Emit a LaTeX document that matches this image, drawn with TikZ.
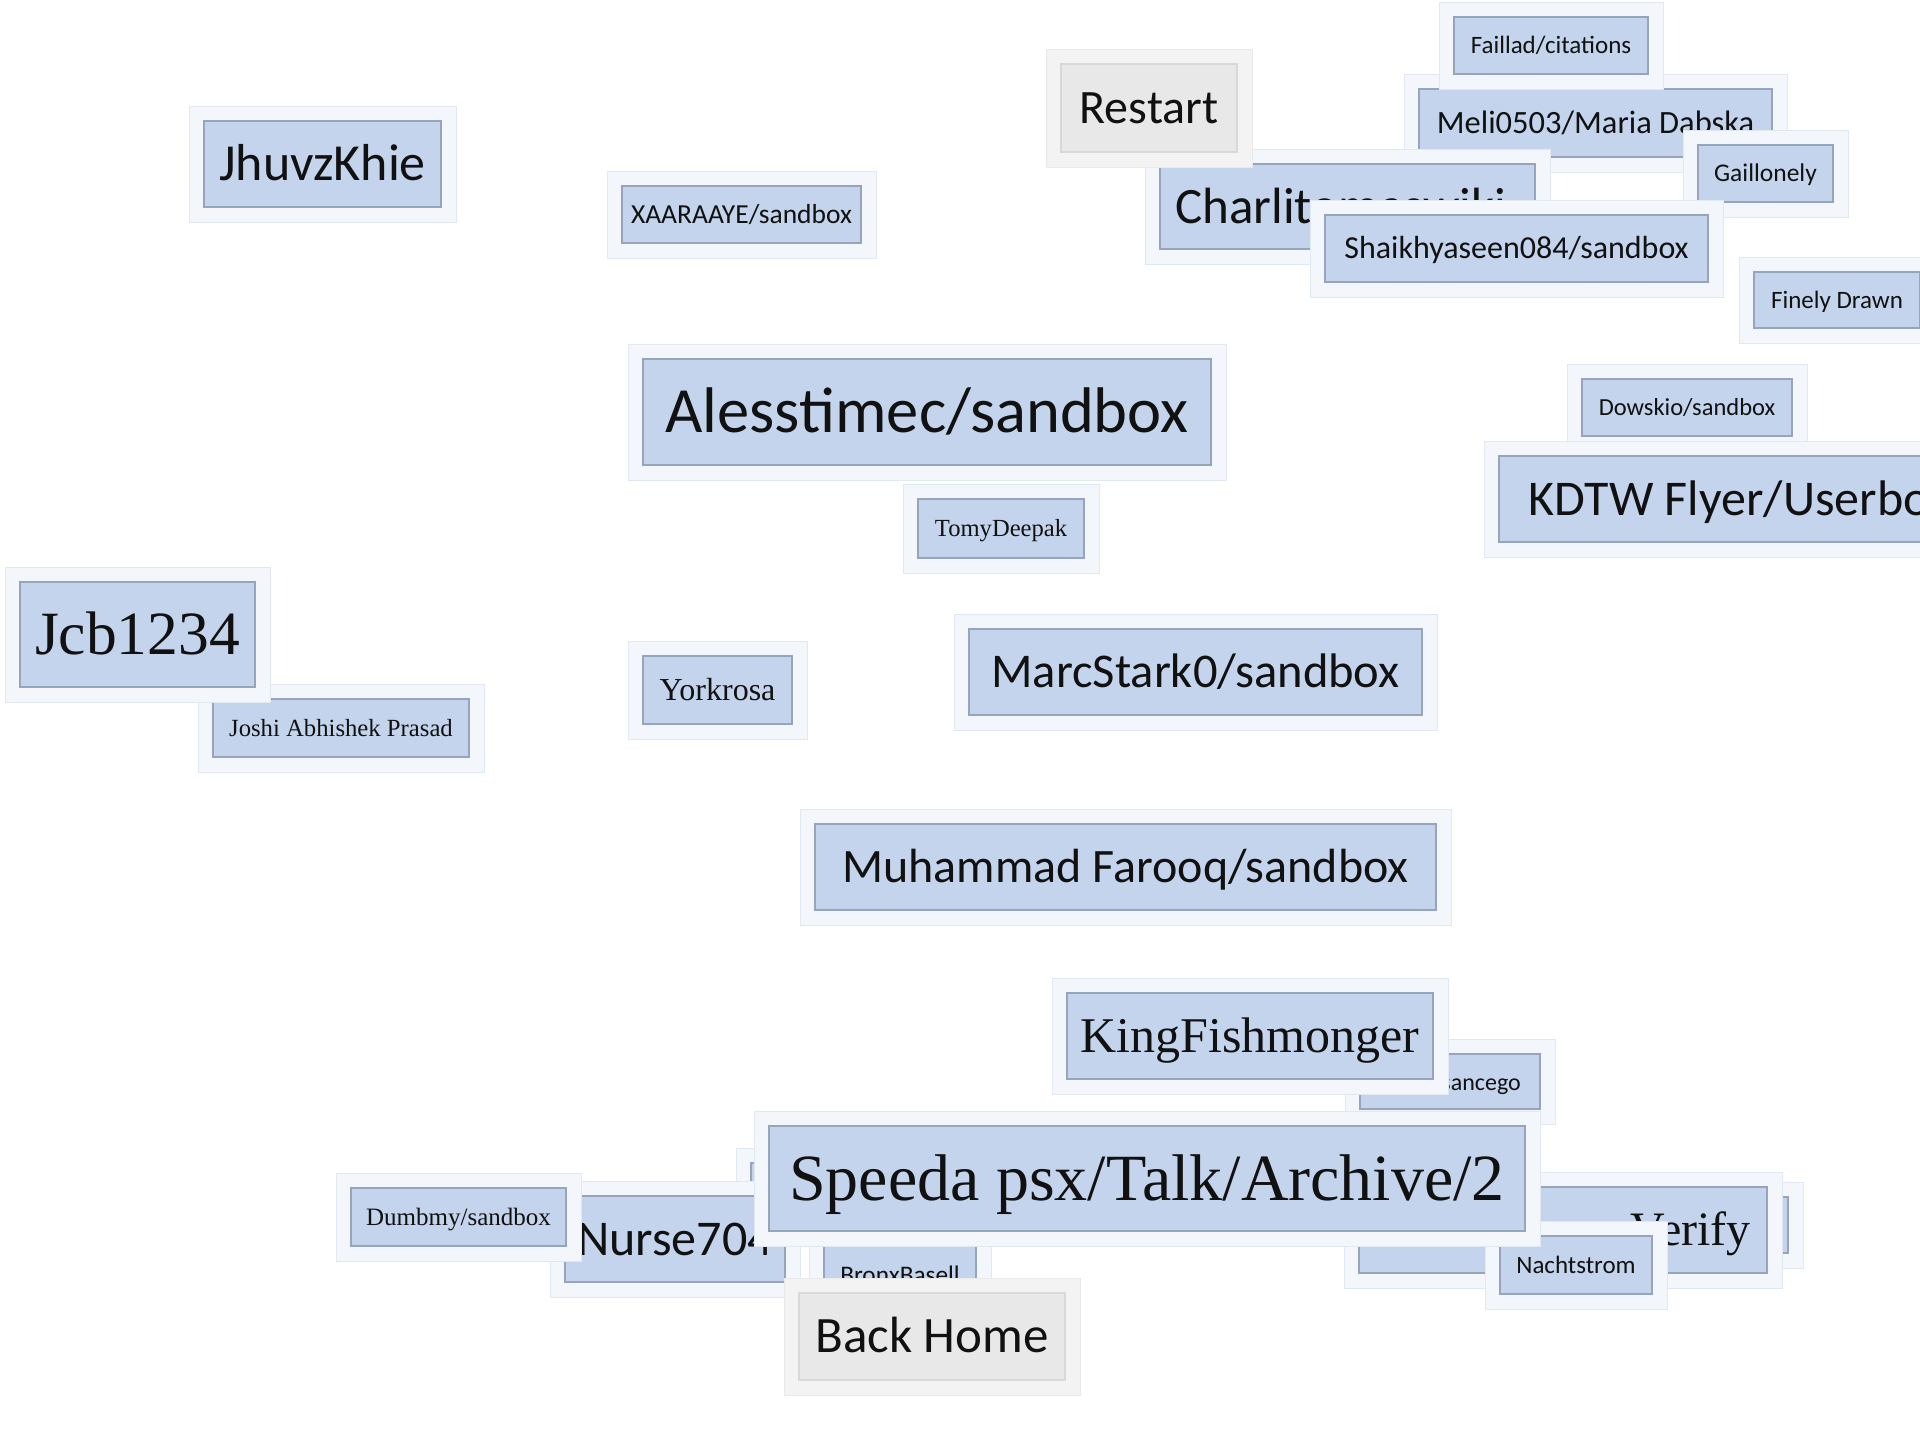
\documentclass[tikz,border=0pt]{standalone}
\usepackage{fontspec}
\newfontfamily\sansface{Carlito}
\newfontfamily\serifface{Liberation Serif}

% keep every label's vertical centre on its capital height
\newcommand\capbox[1]{\smash{#1}\vphantom{X}}

% \card{style}{name}{x1}{y1}{x2}{y2}{text}: a box whose inner rectangle spans the two corners
\newcommand\card[7]{%
  \pgfmathsetmacro\cardcx{(#3+#5)/2}%
  \pgfmathsetmacro\cardcy{(#4+#6)/2}%
  \pgfmathsetmacro\cardw{#5-#3}%
  \pgfmathsetmacro\cardh{#6-#4}%
  \node[#1, minimum width=\cardw pt, minimum height=\cardh pt] (#2) at (\cardcx,\cardcy) {#7};}

\definecolor{boxfill}{RGB}{195,212,236}
\definecolor{boxedge}{RGB}{150,165,188}
\definecolor{halofill}{RGB}{243,247,252}
\definecolor{haloedge}{RGB}{224,232,242}
\definecolor{btnfill}{RGB}{232,232,232}
\definecolor{btnedge}{RGB}{216,216,216}
\definecolor{btnhalo}{RGB}{243,243,243}
\definecolor{btnhaloedge}{RGB}{233,233,233}
\definecolor{ink}{RGB}{17,17,17}

\tikzset{
  halo/.style 2 args={
    preaction={draw=#2, line width=31pt, fill=none},
    preaction={draw=#1, line width=29pt, fill=none}},
  pagebox/.style={draw=boxedge, fill=boxfill, line width=1.5pt, inner sep=0pt,
    text=ink, halo={halofill}{haloedge}},
  button/.style={draw=btnedge, fill=btnfill, line width=1.5pt, inner sep=0pt,
    text=ink, halo={btnhalo}{btnhaloedge}},
  sans/.style={font=\sansface\fontsize{#1}{#1}\selectfont},
  serif/.style={font=\serifface\fontsize{#1}{#1}\selectfont},
  loose/.style={text=ink, inner sep=0pt},
}

\begin{document}
\begin{tikzpicture}[x=1pt,y=-1pt]
  \useasboundingbox (0,0) rectangle (1920,1440);
  \clip (0,0) rectangle (1920,1440);
  \fill[white] (0,0) rectangle (1920,1440);

  % upper left and centre
  \card{pagebox, sans=52}{jhuvz}{204}{121}{441}{207}{\capbox{JhuvzKhie}}
  \card{pagebox, sans=27.5}{xaara}{622}{186}{861}{243}{\capbox{XAARAAYE/sandbox}}
  \card{pagebox, sans=64.5}{alesst}{643}{359}{1211}{465}{\capbox{Alesstimec/sandbox}}
  \card{pagebox, serif=24.6}{tomy}{918}{499}{1084}{558}{\capbox{TomyDeepak}}
  \card{pagebox, serif=24.7}{joshi}{213}{699}{469}{757}{\capbox{Joshi Abhishek Prasad}}
  \card{pagebox, serif=61.5}{jcb}{20}{582}{255}{687}{\capbox{Jcb1234}}
  \card{pagebox, serif=32}{york}{643}{656}{792}{724}{\capbox{Yorkrosa}}
  \card{pagebox, sans=48.5}{marc}{969}{629}{1422}{715}{\capbox{MarcStark0/sandbox}}
  \card{pagebox, sans=48}{muham}{815}{824}{1436}{910}{\capbox{Muhammad Farooq/sandbox}}

  % right column
  \card{pagebox, sans=24.5}{dowskio}{1582}{379}{1792}{436}{\capbox{Dowskio/sandbox}}
  \card{pagebox, sans=50}{kdtw}{1499}{456}{2023}{542}{\capbox{KDTW Flyer/Userboxes}}
  \card{pagebox, sans=25}{finely}{1754}{272}{1920}{328}{\capbox{Finely Drawn}}

  % upper right cluster
  \card{pagebox, sans=32.5}{meli}{1419}{89}{1772}{157}{\capbox{Meli0503/Maria Dabska}}
  \card{pagebox, sans=25}{faillad}{1454}{17}{1648}{74}{\capbox{Faillad/citations}}
  \card{pagebox, sans=25.5}{gaill}{1698}{145}{1833}{202}{\capbox{Gaillonely}}
  \card{pagebox}{charlit}{1160}{164}{1535}{249}{}
  \node[loose, sans=51, anchor=base west] (charlitText) at (1175,223) {Charlitomaswiki};
  \card{pagebox, sans=32}{shaikh}{1325}{215}{1708}{282}{\capbox{Shaikhyaseen084/sandbox}}
  \card{button, sans=48}{restart}{1061}{64}{1237}{152}{\capbox{Restart}}

  % lower cluster
  \card{pagebox}{sancego}{1360}{1054}{1540}{1109}{}
  \node[loose, sans=24, anchor=base east] (sancegoText) at (1521,1090) {sancego};
  \card{pagebox, serif=50}{king}{1067}{993}{1433}{1079}{\capbox{KingFishmonger}}
  \card{pagebox}{rhidden}{1600}{1197}{1788}{1253}{}
  \card{pagebox}{verify}{1359}{1187}{1767}{1273}{}
  \node[loose, serif=48, anchor=base east] (verifyText) at (1751,1245) {Please Verify};
  \card{pagebox}{lhidden}{751}{1163}{900}{1221}{}
  \card{pagebox, sans=50}{nurse}{565}{1196}{785}{1282}{\capbox{Nurse704}}
  \card{pagebox, serif=25}{dumbmy}{351}{1188}{566}{1246}{\capbox{Dumbmy/sandbox}}
  \card{pagebox, sans=25.3}{bronx}{824}{1246}{976}{1304}{\capbox{BronxBasell}}
  \card{pagebox, sans=25}{nacht}{1500}{1236}{1652}{1294}{\capbox{Nachtstrom}}
  \card{pagebox, serif=66}{speeda}{769}{1126}{1525}{1231}{\capbox{Speeda psx/Talk/Archive/2}}
  \card{button, sans=51}{backhome}{799}{1293}{1065}{1380}{\capbox{Back Home}}
\end{tikzpicture}
\end{document}
